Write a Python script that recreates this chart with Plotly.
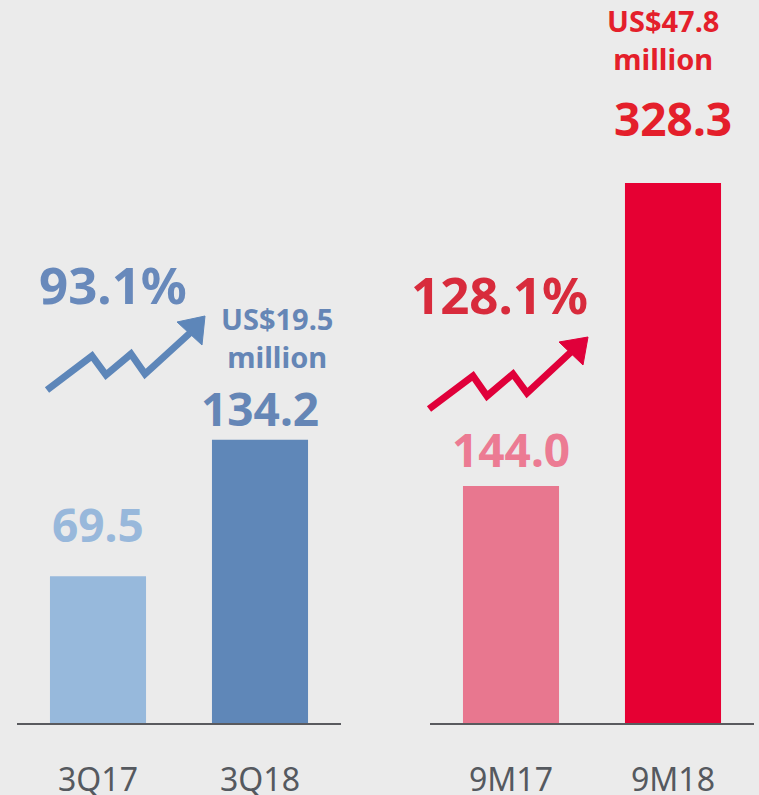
import plotly.graph_objects as go

W, H = 759, 795

# ---- data ----
q_categories = ["3Q17", "3Q18"]
q_values = [69.5, 134.2]
m_categories = ["9M17", "9M18"]
m_values = [144.0, 328.3]
q_growth = "93.1%"
m_growth = "128.1%"
q_usd = "US$19.5<br>million"
m_usd = "US$47.8<br>million"

# ---- styles ----
BG = "#ebebeb"
q_colors = ["#97b9dc", "#5f87b8"]
q_text_colors = ["#98b8db", "#6586b6"]
m_colors = ["#e8778f", "#e60033"]
m_text_colors = ["#ec7b93", "#e41f2b"]
value_shift = [[52, 32], [37, 65]]
FONT = "Noto Sans"

def px(x):
    return x / W

def py(y):
    return 1 - y / H

base_y = 723
fig = go.Figure()
fig.add_trace(go.Bar(x=q_categories, y=q_values, marker_color=q_colors,
                     marker_line_width=0, xaxis="x", yaxis="y", hoverinfo="skip"))
fig.add_trace(go.Bar(x=m_categories, y=m_values, marker_color=m_colors,
                     marker_line_width=0, xaxis="x2", yaxis="y2", hoverinfo="skip"))

ydom = [(H - base_y) / H, 1]
axis_common = dict(showgrid=False, zeroline=False, showline=True, linecolor="#595a5e",
                   linewidth=2, ticks="", tickfont=dict(family=FONT, size=32, color="#55595f"),
                   ticklabelstandoff=28, fixedrange=True, automargin=False)
yaxis_common = dict(showgrid=False, zeroline=False, showline=False, showticklabels=False,
                    fixedrange=True, automargin=False)

fig.update_layout(
    width=W, height=H,
    margin=dict(l=0, r=0, t=0, b=0, pad=0),
    paper_bgcolor=BG, plot_bgcolor=BG,
    showlegend=False,
    bargap=0.407,
    xaxis=dict(domain=[px(17), px(341)], anchor="y", **axis_common),
    yaxis=dict(domain=ydom, range=[0, 723 / 2.11], anchor="x", **yaxis_common),
    xaxis2=dict(domain=[px(430), px(754)], anchor="y2", **axis_common),
    yaxis2=dict(domain=ydom, range=[0, 723 / 1.645], anchor="x2", **yaxis_common),
)

# value labels
for cats, vals, cols, shifts, xr, yr in [
    (q_categories, q_values, q_text_colors, value_shift[0], "x", "y"),
    (m_categories, m_values, m_text_colors, value_shift[1], "x2", "y2"),
]:
    for c, v, col, s in zip(cats, vals, cols, shifts):
        fig.add_annotation(x=c, y=v, xref=xr, yref=yr, text=f"<b>{v:.1f}</b>",
                           showarrow=False, xanchor="center", yanchor="middle", yshift=s,
                           font=dict(family=FONT, size=46, color=col))

# growth labels
def label(x, y, text, size, color):
    fig.add_annotation(x=px(x), y=py(y), xref="paper", yref="paper", text=f"<b>{text}</b>",
                       showarrow=False, xanchor="center", yanchor="middle",
                       font=dict(family=FONT, size=size, color=color))

label(113, 284, q_growth, 51, "#6889bb")
label(499, 294, m_growth, 51, "#d82b3c")
label(277, 337, q_usd, 29, "#6586b6")
label(663, 40, m_usd, 29, "#e41f2b")

# zig-zag arrows
def zigzag(points, head, color):
    path = "M " + " L ".join(f"{px(x)},{py(y)}" for x, y in points)
    fig.add_shape(type="path", path=path, xref="paper", yref="paper",
                  line=dict(color=color, width=7), layer="above")
    hp = "M " + " L ".join(f"{px(x)},{py(y)}" for x, y in head) + " Z"
    fig.add_shape(type="path", path=hp, xref="paper", yref="paper",
                  fillcolor=color, line=dict(color=color, width=1), layer="above")

zigzag([(47, 390), (92, 356), (106, 375), (131, 354), (145, 374), (190, 333)],
       [(177, 322), (205, 316), (202, 345)], "#5d86b9")
zigzag([(429, 409), (473, 376), (487, 396), (513, 374), (527, 393), (571, 352)],
       [(559, 342), (588, 337), (583, 365)], "#e0003a")

fig.write_html("out.html", config={"displayModeBar": False},
               post_script="document.body.style.margin='0';")
